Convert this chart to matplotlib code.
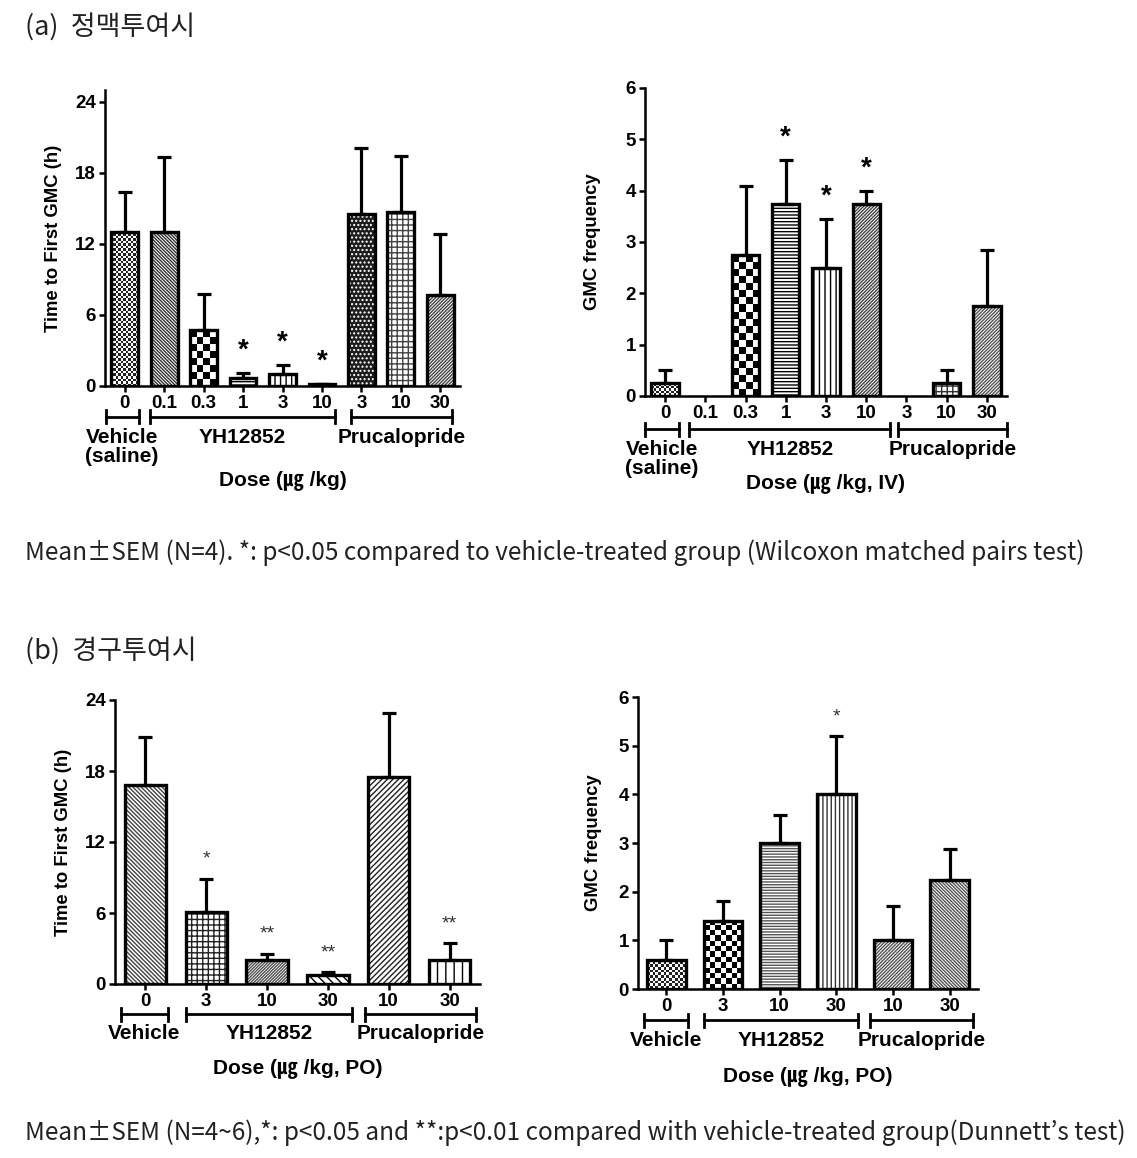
import numpy as np
import matplotlib
matplotlib.use("Agg")
import matplotlib.pyplot as plt
from matplotlib.colors import ListedColormap

# ---- data ---------------------------------------------------------------
iv_doses = ["0", "0.1", "0.3", "1", "3", "10", "3", "10", "30"]
iv_time_mean = [13.0, 13.0, 4.7, 0.7, 1.0, 0.15, 14.5, 14.7, 7.7]
iv_time_sem = [3.4, 6.3, 3.1, 0.4, 0.8, 0.05, 5.6, 4.7, 5.1]
iv_time_sig = ["", "", "", "*", "*", "*", "", "", ""]
iv_freq_mean = [0.25, 0.0, 2.75, 3.75, 2.5, 3.75, 0.0, 0.25, 1.75]
iv_freq_sem = [0.25, 0.0, 1.35, 0.85, 0.95, 0.25, 0.0, 0.25, 1.1]
iv_freq_sig = ["", "", "", "*", "*", "*", "", "", ""]
iv_groups = ["Vehicle\n(saline)", "YH12852", "Prucalopride"]

po_doses = ["0", "3", "10", "30", "10", "30"]
po_time_mean = [16.8, 6.1, 2.0, 0.75, 17.5, 2.0]
po_time_sem = [4.1, 2.8, 0.55, 0.23, 5.4, 1.45]
po_time_sig = ["", "*", "**", "**", "", "**"]
po_freq_mean = [0.6, 1.4, 3.0, 4.0, 1.0, 2.25]
po_freq_sem = [0.4, 0.4, 0.57, 1.2, 0.71, 0.62]
po_freq_sig = ["", "", "", "*", "", ""]
po_groups = ["Vehicle", "YH12852", "Prucalopride"]

W, H = 1137, 1158
FONT = "Liberation Sans"
KFONT = ["Noto Sans CJK KR", "DejaVu Sans"]

plt.rcParams["font.family"] = FONT
plt.rcParams["hatch.linewidth"] = 1.0

# fill styles: ("checker", cell_px, color) or ("hatch", pattern, color[, face])
iv_time_fill = [
    ("checker", 2.5, "#222222"),
    ("hatch", "\\" * 10, "#333333"),
    ("checker", 7, "black"),
    ("hatch", "-----", "black"),
    ("hatch", "|||", "black"),
    ("hatch", "/" * 10, "#444444"),
    ("hatch", "....", "white", "#1c1c1c"),
    ("hatch", "+++", "#444444"),
    ("hatch", "/" * 10, "#444444"),
]
iv_freq_fill = [
    ("checker", 2.5, "#222222"),
    ("hatch", "", "black"),
    ("checker", 7, "black"),
    ("hatch", "-----", "black"),
    ("hatch", "|||", "black"),
    ("hatch", "/" * 10, "#444444"),
    ("hatch", "", "black"),
    ("hatch", "+++", "#333333"),
    ("hatch", "/" * 10, "#555555"),
]
po_time_fill = [
    ("hatch", "\\" * 8, "#444444"),
    ("hatch", "+++", "#222222"),
    ("hatch", "/" * 11, "#555555"),
    ("hatch", "\\" * 4, "black"),
    ("hatch", "/" * 6, "#222222"),
    ("hatch", "||", "black"),
]
po_freq_fill = [
    ("checker", 2.7, "#222222"),
    ("checker", 5.3, "black"),
    ("hatch", "------", "#555555"),
    ("hatch", "||||", "#333333"),
    ("hatch", "/" * 10, "#555555"),
    ("hatch", "\\" * 10, "#555555"),
]


def checker_fill(ax, bar, cell_px, color):
    x0, y0 = bar.get_x(), bar.get_y()
    w, h = bar.get_width(), bar.get_height()
    if h <= 0:
        return
    (px0, py0), (px1, py1) = ax.transData.transform([(x0, y0), (x0 + w, y0 + h)])
    nx = max(1, int(round((px1 - px0) / cell_px)))
    rows = (py1 - py0) / cell_px
    ny = max(1, int(np.ceil(rows)))
    cell_h = h / rows
    grid = np.indices((ny, nx)).sum(axis=0) % 2
    im = ax.imshow(grid, cmap=ListedColormap(["white", color]),
                   extent=(x0, x0 + w, y0, y0 + ny * cell_h), origin="lower",
                   aspect="auto", interpolation="nearest", zorder=2.5)
    im.set_clip_path(bar)


def draw_panel(box, labels, means, sems, sig, fills, ylim, yticks, ylabel,
               groups, spans, bracket_y, group_y, dose, dose_y, ylabel_x,
               star_size, star_weight, star_color, star_off):
    left, top, right, bottom = box
    ax = fig.add_axes([left / W, 1 - bottom / H, (right - left) / W, (bottom - top) / H])
    n = len(labels)
    ax.set_xlim(-0.5, n - 0.5)
    ax.set_ylim(*ylim)
    ax.set_autoscale_on(False)

    def fy(y):
        return (bottom - y) / (bottom - top)

    x = np.arange(n)
    means = np.asarray(means)
    sems = np.asarray(sems)
    base = ax.bar(x, means, width=0.68, color="white", linewidth=0, zorder=2)
    for b, f in zip(base, fills):
        if f[0] == "checker":
            checker_fill(ax, b, f[1], f[2])
        else:
            if len(f) > 3:
                b.set_facecolor(f[3])
            b.set_hatch(f[1])
            b.set_edgecolor(f[2])
            b.set_linewidth(0)
    outline = ax.bar(x, means, width=0.68, fill=False, edgecolor="black",
                     linewidth=2.4, zorder=3)
    for b in outline:
        if b.get_height() <= 0:
            b.set_visible(False)
    # only bars with a measured value get an error bar
    has = means > 0
    ax.errorbar(x[has], means[has], yerr=[np.zeros(has.sum()), sems[has]],
                fmt="none", ecolor="black", elinewidth=2.3, capsize=4.8,
                capthick=2.3, zorder=4)
    for i, s in enumerate(sig):
        if s:
            ax.annotate(s, xy=(i, means[i] + sems[i]), xytext=(0, star_off),
                        textcoords="offset points", ha="center", va="center",
                        fontsize=star_size, fontweight=star_weight, color=star_color)

    for side in ("top", "right"):
        ax.spines[side].set_visible(False)
    for side in ("left", "bottom"):
        ax.spines[side].set_linewidth(1.8)
    ax.set_xticks(x, labels)
    ax.set_yticks(yticks)
    ax.tick_params(axis="both", direction="out", length=4, width=1.8,
                   labelsize=13.5, pad=2.5)
    for t in ax.get_xticklabels() + ax.get_yticklabels():
        t.set_fontweight("bold")

    ax.text(ylabel_x, 0.5, ylabel, transform=ax.transAxes, rotation=90,
            ha="center", va="center", fontsize=13.3, fontweight="bold")

    tr = ax.get_xaxis_transform()
    by = fy(bracket_y)
    cap = 6.5 / (bottom - top)
    for (a, b), g in zip(spans, groups):
        ax.plot([a, b], [by, by], color="black", lw=2.0, transform=tr, clip_on=False)
        for e in (a, b):
            ax.plot([e, e], [by - cap, by + cap], color="black", lw=2.0,
                    transform=tr, clip_on=False)
        ax.text((a + b) / 2, fy(group_y), g, transform=tr, ha="center", va="top",
                fontsize=15, fontweight="bold", linespacing=1.0)
    ax.text(0.5, fy(dose_y), dose, transform=ax.transAxes, ha="center", va="center",
            fontsize=15, fontweight="bold", family=[FONT, "Noto Sans CJK KR"])
    return ax


fig = plt.figure(figsize=(W / 100, H / 100), dpi=100)

fig.text(25 / W, 1 - 27 / H, "(a)  정맥투여시", family=KFONT, fontsize=19.5,
         va="center", ha="left", color="#222222")
fig.text(25 / W, 1 - 651 / H, "(b)  경구투여시", family=KFONT, fontsize=19.5,
         va="center", ha="left", color="#222222")
fig.text(25 / W, 1 - 553 / H,
         "Mean±SEM (N=4). *: p<0.05 compared to vehicle-treated group (Wilcoxon matched pairs test)",
         family=KFONT, fontsize=17.5, va="center", ha="left", color="#222222")
fig.text(25 / W, 1 - 1133 / H,
         "Mean±SEM (N=4~6),*: p<0.05 and **:p<0.01 compared with vehicle-treated group(Dunnett’s test)",
         family=KFONT, fontsize=17.5, va="center", ha="left", color="#222222")

draw_panel((105, 90, 460, 386), iv_doses, iv_time_mean, iv_time_sem, iv_time_sig,
           iv_time_fill, (0, 25), [0, 6, 12, 18, 24], "Time to First GMC (h)",
           iv_groups, [(-0.48, 0.35), (0.65, 5.33), (5.73, 8.3)], 417, 428,
           "Dose (㎍ /kg)", 480, -0.146, 20, "bold", "black", 16)

draw_panel((645, 88, 1007, 396), iv_doses, iv_freq_mean, iv_freq_sem, iv_freq_sig,
           iv_freq_fill, (0, 6), [0, 1, 2, 3, 4, 5, 6], "GMC frequency",
           iv_groups, [(-0.5, 0.35), (0.6, 5.6), (5.8, 8.5)], 429, 440,
           "Dose (㎍ /kg, IV)", 483, -0.144, 20, "bold", "black", 16)

draw_panel((115, 700, 480, 984), po_doses, po_time_mean, po_time_sem, po_time_sig,
           po_time_fill, (0, 24), [0, 6, 12, 18, 24], "Time to First GMC (h)",
           po_groups, [(-0.4, 0.37), (0.66, 3.4), (3.61, 5.43)], 1014, 1024,
           "Dose (㎍ /kg, PO)", 1068, -0.142, 14, "normal", "#333333", 14)

draw_panel((638, 697, 978, 989), po_doses, po_freq_mean, po_freq_sem, po_freq_sig,
           po_freq_fill, (0, 6), [0, 1, 2, 3, 4, 5, 6], "GMC frequency",
           po_groups, [(-0.4, 0.38), (0.66, 3.39), (3.6, 5.41)], 1020, 1031,
           "Dose (㎍ /kg, PO)", 1076, -0.132, 14, "normal", "#333333", 14)

fig.savefig("out.png", dpi=100, facecolor="white")
